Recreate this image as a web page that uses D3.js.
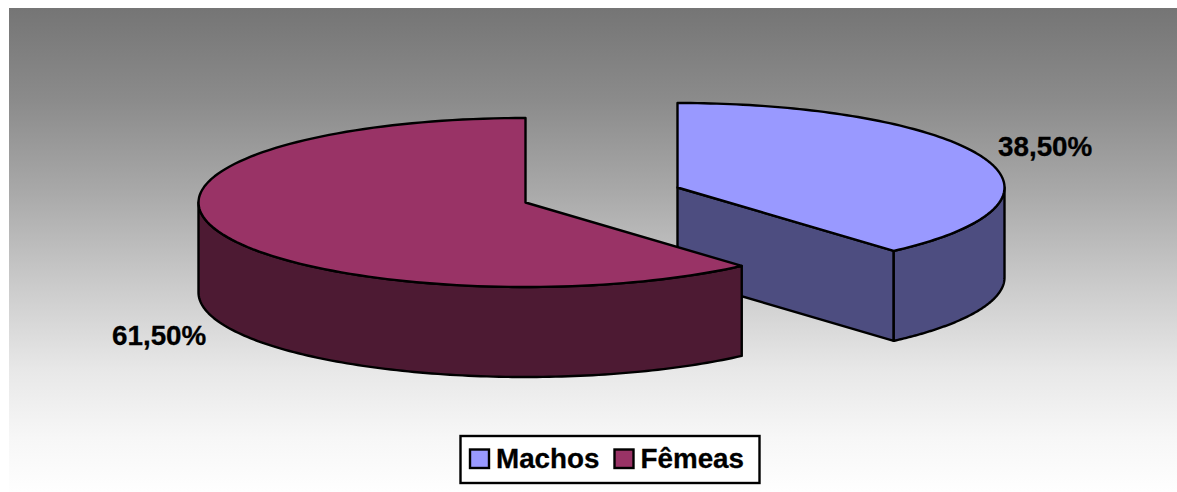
<!DOCTYPE html>
<html>
<head>
<meta charset="utf-8">
<script src="https://cdn.jsdelivr.net/npm/d3@7"></script>
<style>
    html, body { margin: 0; padding: 0; background: #fff; overflow: hidden; }
    svg { display: block; }
    text { font-family: "Liberation Sans", Arial, sans-serif; font-weight: bold; fill: #000; stroke: #000; stroke-width: 0.3px; }
</style>
</head>
<body>
<div id="chart"></div>
<script>
const categories = ['Machos', 'Fêmeas'];
const values = [38.5, 61.5];
const valueLabels = ['38,50%', '61,50%'];
const topColors = ['#9999ff', '#993366'];
const sideColors = ['#4d4d80', '#4d1a33'];
const bgOffsets = [0, 0.19, 0.375, 0.58, 0.75, 0.89, 1];
const bgColors = ['#757575', '#8b8b8b', '#a8a8a8', '#cccccc', '#e8e8e8', '#f7f7f7', '#fefefe'];

const width = 1177, height = 492;

let svg = d3.select('#chart').append('svg')
    .attr('width', width)
    .attr('height', height);

let grad = svg.append('defs').append('linearGradient')
    .attr('id', 'bg')
    .attr('x1', 0).attr('y1', 0)
    .attr('x2', 0).attr('y2', 1);
bgOffsets.forEach((o, i) => {
    grad.append('stop').attr('offset', o).attr('stop-color', bgColors[i]);
});

svg.append('rect')
    .attr('x', 9).attr('y', 8)
    .attr('width', width - 9).attr('height', height - 8)
    .attr('fill', 'url(#bg)');

// pie slices start at 12 o'clock, clockwise
let arcs = d3.pie().sort(null).value(d => d)(values);

const rx = 327, ry = 84.5, depth = 90;
// the slices are pulled apart, each has its own centre
const centers = [[677.5, 187.5], [525.5, 202.5]];

// ellipse point for a pie angle
function pt(c, a, dy) {
    return [c[0] + rx * Math.sin(a), c[1] - ry * Math.cos(a) + (dy || 0)];
}

function arcPoints(c, a0, a1, dy) {
    let n = 120;
    return d3.range(n + 1).map(i => pt(c, a0 + (a1 - a0) * i / n, dy));
}

let line = d3.line();

function drawFace(points, fill) {
    svg.append('path')
        .attr('d', line(points) + 'Z')
        .attr('fill', fill)
        .attr('stroke', '#000')
        .attr('stroke-width', 2.4)
        .attr('stroke-linejoin', 'round');
}

// Machos: cut face, then the outer wall, then the top
let c0 = centers[0], a0 = arcs[0];
let end0 = pt(c0, a0.endAngle);
drawFace([c0, end0, [end0[0], end0[1] + depth], [c0[0], c0[1] + depth]], sideColors[0]);
drawFace(
    arcPoints(c0, Math.PI / 2, a0.endAngle).concat(arcPoints(c0, a0.endAngle, Math.PI / 2, depth)),
    sideColors[0]
);
drawFace([c0].concat(arcPoints(c0, a0.startAngle, a0.endAngle)), topColors[0]);

// Fêmeas: only the outer wall shows
let c1 = centers[1], a1 = arcs[1];
drawFace(
    arcPoints(c1, a1.startAngle, Math.PI * 1.5).concat(arcPoints(c1, Math.PI * 1.5, a1.startAngle, depth)),
    sideColors[1]
);
drawFace([c1].concat(arcPoints(c1, a1.startAngle, a1.endAngle)), topColors[1]);

// value labels
svg.append('text').attr('x', 998).attr('y', 156)
    .style('font-size', '27.8px').text(valueLabels[0]);
svg.append('text').attr('x', 112).attr('y', 345)
    .style('font-size', '27.8px').text(valueLabels[1]);

// legend
let legend = svg.append('g');
legend.append('rect')
    .attr('x', 460.5).attr('y', 436)
    .attr('width', 299).attr('height', 47)
    .attr('fill', '#fff')
    .attr('stroke', '#000')
    .attr('stroke-width', 2.4);

const legendX = [470, 614.5];
categories.forEach((d, i) => {
    legend.append('rect')
        .attr('x', legendX[i]).attr('y', 449.5)
        .attr('width', 19).attr('height', 18.5)
        .attr('fill', topColors[i])
        .attr('stroke', '#000')
        .attr('stroke-width', 2.4);
    legend.append('text')
        .attr('x', legendX[i] + 26).attr('y', 468)
        .style('font-size', '27.8px')
        .text(d);
});
</script>
</body>
</html>
